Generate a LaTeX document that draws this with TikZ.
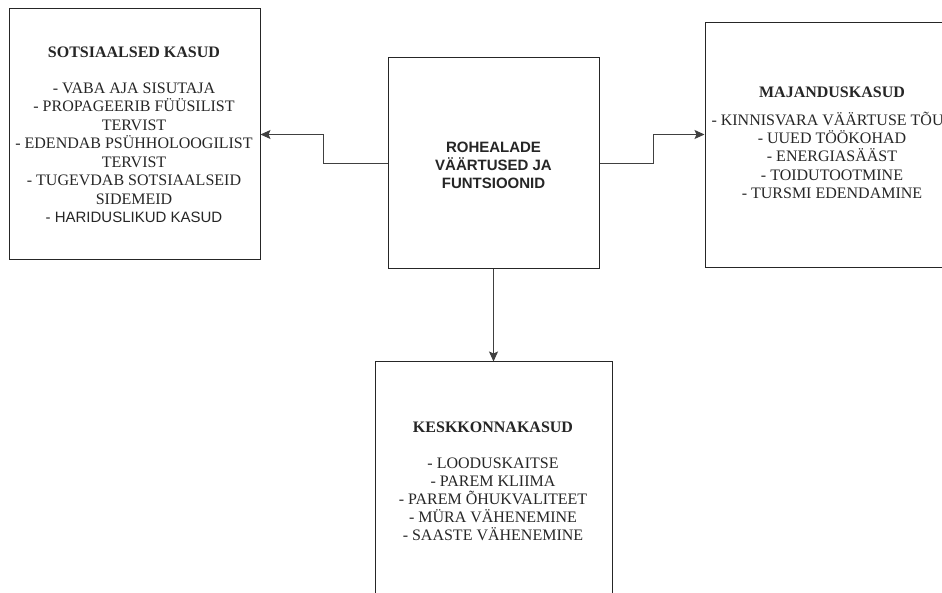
\documentclass[tikz,border=0pt]{standalone}
\usepackage{fontspec}
\setmainfont{Liberation Serif}
\setsansfont{Liberation Sans}
\usetikzlibrary{arrows.meta}
\begin{document}
\begin{tikzpicture}[x=1pt,y=-1pt,
  box/.style={draw=black!85, line width=1pt, fill=white, inner sep=0pt},
  boxtext/.style={align=center, inner sep=0pt, text=black!85},
  conn/.style={draw=black!75, line width=1pt, -{Stealth[length=10pt,width=9pt,inset=2pt]}}]
\useasboundingbox (0,0) rectangle (942,593);
\clip (0,0) rectangle (942,593);
\fill[white] (0,0) rectangle (942,593);
% boxes
\node[box, minimum width=251pt, minimum height=251pt] (soc) at (134.5,134.5) {};
\node[box, minimum width=211pt, minimum height=211pt] (cen) at (493.5,163.5) {};
\node[box, minimum width=254pt, minimum height=245pt] (maj) at (832,145.5) {};
\node[box, minimum width=237pt, minimum height=240pt] (kes) at (493.5,482) {};
% texts
\node[boxtext, font=\fontsize{16}{18.5}\selectfont] (soctext) at (134,135)
  {\textbf{SOTSIAALSED KASUD}\\[17.5pt]
   - VABA AJA SISUTAJA\\
   - PROPAGEERIB FÜÜSILIST\\
   TERVIST\\
   - EDENDAB PSÜHHOLOOGILIST\\
   TERVIST\\
   - TUGEVDAB SOTSIAALSEID\\
   SIDEMEID\\
   {\sffamily\fontsize{15}{18.5}\selectfont - HARIDUSLIKUD KASUD}};
\node[boxtext, font=\sffamily\bfseries\fontsize{15}{18}\selectfont] (centext) at (493.5,165)
  {ROHEALADE\\ VÄÄRTUSED JA\\ FUNTSIOONID};
\node[boxtext, font=\fontsize{16}{18.3}\selectfont] (majtext) at (832,142.5)
  {\textbf{MAJANDUSKASUD}\\[9.7pt]
   - KINNISVARA VÄÄRTUSE TÕUS\\
   - UUED TÖÖKOHAD\\
   - ENERGIASÄÄST\\
   - TOIDUTOOTMINE\\
   - TURSMI EDENDAMINE};
\node[boxtext, font=\fontsize{16}{18}\selectfont] (kestext) at (493,481)
  {\textbf{KESKKONNAKASUD}\\[18pt]
   - LOODUSKAITSE\\
   - PAREM KLIIMA\\
   - PAREM ÕHUKVALITEET\\
   - MÜRA VÄHENEMINE\\
   - SAASTE VÄHENEMINE};
% connectors
\draw[conn] (cen.west) -- ++(-64,0) |- (soc.east);
\draw[conn] (cen.east) -- ++(54,0) |- (maj.west |- soc.east);
\draw[conn] (cen.south) -- (kes.north);
\end{tikzpicture}
\end{document}
